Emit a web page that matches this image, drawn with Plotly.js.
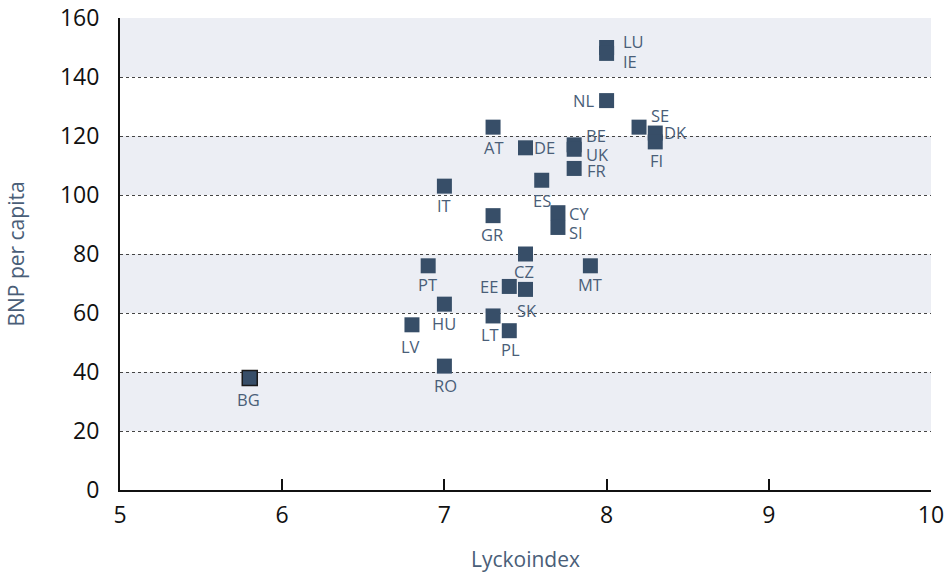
<!DOCTYPE html>
<html>
<head>
<meta charset="utf-8">
<script src="https://cdn.plot.ly/plotly-3.0.1.min.js"></script>
<style>html,body{margin:0;padding:0;background:#fff;}#chart{width:949px;height:573px;}</style>
</head>
<body>
<div id="chart"></div>
<script>
// Data
const countries = ["LU","IE","NL","SE","DK","FI","AT","DE","BE","UK","FR","ES","IT","CY","SI","GR","CZ","PT","MT","EE","SK","HU","LT","PL","LV","RO","BG"];
const happiness = [8.0, 8.0, 8.0, 8.2, 8.3, 8.3, 7.3, 7.5, 7.8, 7.8, 7.8, 7.6, 7.0, 7.7, 7.7, 7.3, 7.5, 6.9, 7.9, 7.4, 7.5, 7.0, 7.3, 7.4, 6.8, 7.0, 5.8];
const gdpPerCapita = [150, 148, 132, 123, 121, 118, 123, 116, 117, 115.5, 109, 105, 103, 94, 89, 93, 80, 76, 76, 69, 68, 63, 59, 54, 56, 42, 38];
const xTicks = [5, 6, 7, 8, 9, 10];
const yTicks = [0, 20, 40, 60, 80, 100, 120, 140, 160];

// Label placement (pixel offsets, styling only)
const labelPlace = {
  LU:{a:"left",dx:15,dy:6}, IE:{a:"left",dx:15,dy:-8}, NL:{a:"right",dx:-12,dy:0},
  SE:{a:"left",dx:11,dy:12}, DK:{a:"left",dx:8,dy:1}, FI:{a:"center",dx:1,dy:-19},
  AT:{a:"center",dx:1,dy:-20}, DE:{a:"left",dx:7,dy:0}, BE:{a:"left",dx:11,dy:9},
  UK:{a:"left",dx:11,dy:-5}, FR:{a:"left",dx:12,dy:-2}, ES:{a:"center",dx:0,dy:-20},
  IT:{a:"center",dx:0,dy:-19}, CY:{a:"left",dx:10,dy:-1}, SI:{a:"left",dx:10,dy:-5},
  GR:{a:"center",dx:-1,dy:-19}, CZ:{a:"center",dx:-2,dy:-17}, PT:{a:"center",dx:-1,dy:-19},
  MT:{a:"center",dx:0,dy:-19}, EE:{a:"right",dx:-10,dy:0}, SK:{a:"center",dx:1,dy:-21},
  HU:{a:"center",dx:0,dy:-19}, LT:{a:"center",dx:-3,dy:-19}, PL:{a:"center",dx:1,dy:-19},
  LV:{a:"center",dx:-1,dy:-22}, RO:{a:"center",dx:1,dy:-19}, BG:{a:"center",dx:-1,dy:-22}
};

const labelColor = "#4a5e78";
const markColor = "#374e68";
const fontFam = "Open Sans, sans-serif";

const trace = {
  type: "scatter",
  mode: "markers",
  x: happiness,
  y: gdpPerCapita,
  text: countries,
  hoverinfo: "text+x+y",
  marker: {
    symbol: "square",
    size: 15,
    color: markColor,
    line: {
      color: countries.map(c => c === "BG" ? "#1a1a1a" : markColor),
      width: countries.map(c => c === "BG" ? 1.5 : 0)
    }
  },
  showlegend: false
};

const annotations = countries.map((c, i) => {
  const p = labelPlace[c];
  return {
    x: happiness[i], y: gdpPerCapita[i], xref: "x", yref: "y",
    text: c, showarrow: false,
    xanchor: p.a, yanchor: "middle",
    xshift: p.dx, yshift: p.dy, borderpad: 0,
    font: {family: fontFam, size: 16.5, color: labelColor}
  };
});

const shapes = [];
for (let k = 0; k < yTicks.length - 1; k++) {
  if (k % 2 === 1) {
    shapes.push({type: "rect", xref: "paper", yref: "y", x0: 0, x1: 1,
      y0: yTicks[k], y1: yTicks[k + 1], fillcolor: "#eceef4", line: {width: 0}, layer: "below"});
  }
}

const layout = {
  width: 949, height: 573,
  margin: {l: 120, r: 18, t: 18, b: 83},
  paper_bgcolor: "#ffffff",
  plot_bgcolor: "#ffffff",
  font: {family: fontFam},
  shapes: shapes,
  annotations: annotations,
  xaxis: {
    range: [5, 10], tickvals: xTicks, ticktext: xTicks.map(String),
    showgrid: false, zeroline: false,
    showline: true, linecolor: "#111", linewidth: 2,
    ticks: "inside", ticklen: 11, tickwidth: 2, tickcolor: "#111",
    tickfont: {size: 23, color: "#111", family: fontFam},
    ticklabelstandoff: 3,
    title: {text: "Lyckoindex", font: {size: 21, color: labelColor}, standoff: 26}
  },
  yaxis: {
    range: [0, 160], tickvals: yTicks, ticktext: yTicks.map(String),
    showgrid: true, gridcolor: "#444", gridwidth: 1, griddash: "dot",
    zeroline: false,
    showline: true, linecolor: "#111", linewidth: 2,
    ticks: "",
    tickfont: {size: 23, color: "#111", family: fontFam},
    ticklabelstandoff: 14,
    title: {text: "BNP per capita", font: {size: 21, color: labelColor}, standoff: 30}
  }
};

Plotly.newPlot("chart", [trace], layout, {displayModeBar: false, staticPlot: true});
</script>
</body>
</html>
